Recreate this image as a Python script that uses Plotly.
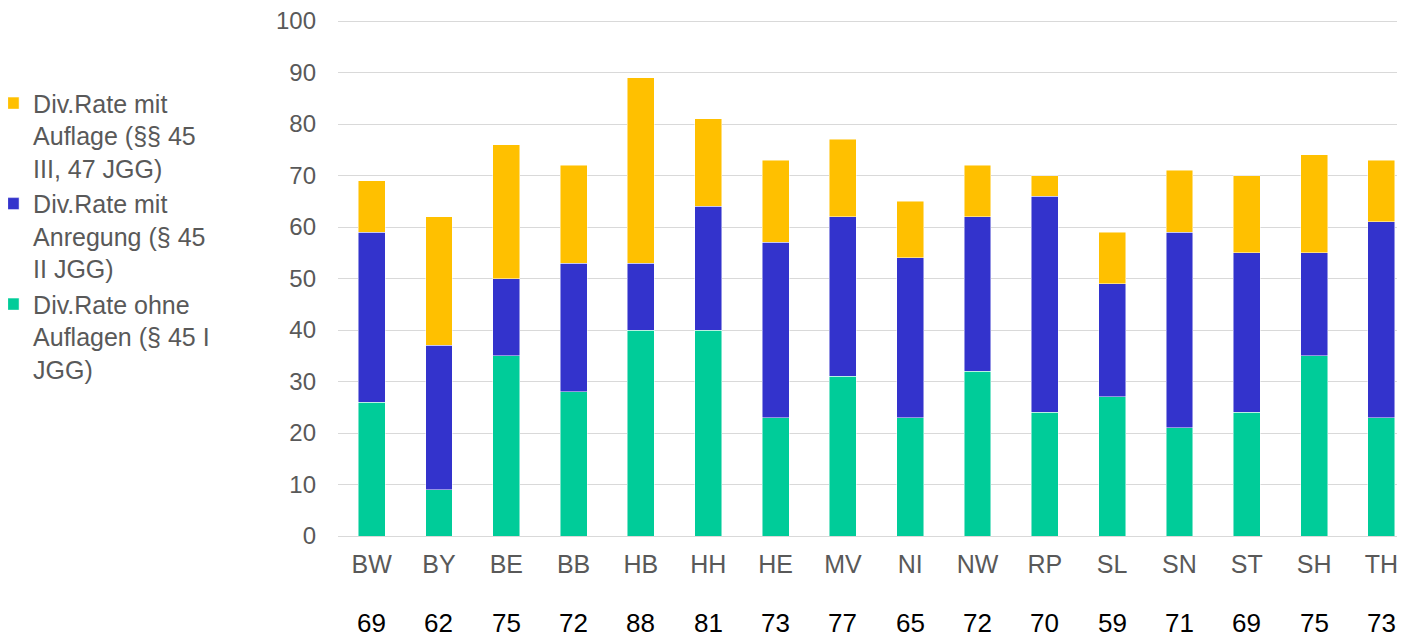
import plotly.graph_objects as go

laender = ["BW", "BY", "BE", "BB", "HB", "HH", "HE", "MV", "NI", "NW", "RP", "SL", "SN", "ST", "SH", "TH"]
ohne_auflagen = [26, 9, 35, 28, 40, 40, 23, 31, 23, 32, 24, 27, 21, 24, 35, 23]
mit_anregung = [33, 28, 15, 25, 13, 24, 34, 31, 31, 30, 42, 22, 38, 31, 20, 38]
mit_auflage = [10, 25, 26, 19, 36, 17, 16, 15, 11, 10, 4, 10, 12, 15, 19, 12]
gesamt = [69, 62, 75, 72, 88, 81, 73, 77, 65, 72, 70, 59, 71, 69, 75, 73]

names = [
    "Div.Rate ohne<br>Auflagen (§ 45 I<br>JGG)",
    "Div.Rate mit<br>Anregung (§ 45<br>II JGG)",
    "Div.Rate mit<br>Auflage (§§ 45<br>III, 47 JGG)",
]
colors = ["#00CC99", "#3333CC", "#FFC000"]
series = [ohne_auflagen, mit_anregung, mit_auflage]
ranks = [3, 2, 1]

FONT = "Liberation Sans, Arial, sans-serif"
GRAY = "#595959"

fig = go.Figure()
for i, (nm, vals, col, rk) in enumerate(zip(names, series, colors, ranks)):
    fig.add_trace(go.Bar(
        x=laender, y=vals, name=nm, legendgroup=f"g{i}", legendrank=rk,
        marker=dict(color=col, line=dict(color="rgba(255,255,255,0.6)", width=0.8)),
    ))

for lk, total in zip(laender, gesamt):
    fig.add_annotation(x=lk, y=-0.1686, xref="x", yref="paper", text=str(total),
                       showarrow=False, font=dict(family=FONT, size=26, color="#000000"),
                       yanchor="middle")

fig.update_layout(
    width=1397, height=630,
    margin=dict(l=330, r=0, t=12, b=102),
    barmode="stack", bargap=0.6,
    plot_bgcolor="white", paper_bgcolor="white",
    font=dict(family=FONT, size=24, color=GRAY),
    legend=dict(
        x=-0.3092, xanchor="left", y=0.883, yanchor="top",
        traceorder="grouped", tracegroupgap=0, indentation=-15, valign="top",
        font=dict(family=FONT, size=25, color=GRAY),
        itemwidth=30, bgcolor="rgba(0,0,0,0)",
    ),
    xaxis=dict(
        range=[-0.5, 15.35], showgrid=False, showline=False,
        tickfont=dict(family=FONT, size=25, color=GRAY),
        ticklabelstandoff=11,
    ),
    yaxis=dict(
        range=[0, 100.2], dtick=10, showgrid=True, gridcolor="#D9D9D9", gridwidth=1,
        zeroline=True, zerolinecolor="#D9D9D9", zerolinewidth=1,
        tickfont=dict(family=FONT, size=24, color=GRAY),
        ticklabelstandoff=21, ticklabeloverflow="allow",
    ),
)

fig.write_html("out.html")
